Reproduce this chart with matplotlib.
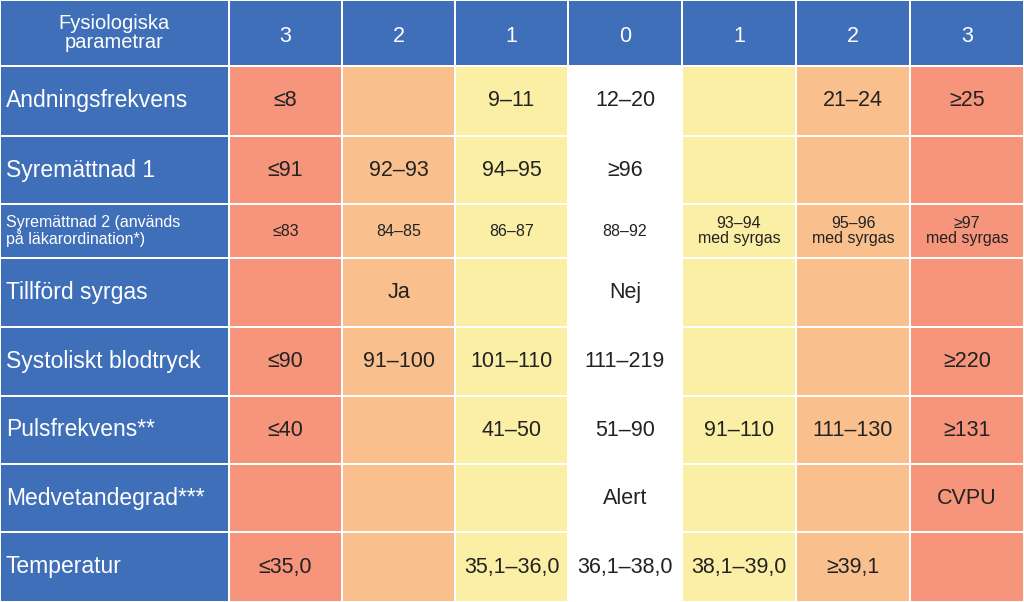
import matplotlib.pyplot as plt
from matplotlib.patches import Rectangle

plt.rcParams["font.family"] = "Liberation Sans"

scores = ["3", "2", "1", "0", "1", "2", "3"]
params = ["Andningsfrekvens", "Syremättnad 1",
          "Syremättnad 2 (används\npå läkarordination*)", "Tillförd syrgas",
          "Systoliskt blodtryck", "Pulsfrekvens**", "Medvetandegrad***", "Temperatur"]
values = [
    ["≤8", "", "9–11", "12–20", "", "21–24", "≥25"],
    ["≤91", "92–93", "94–95", "≥96", "", "", ""],
    ["≤83", "84–85", "86–87", "88–92", "93–94\nmed syrgas", "95–96\nmed syrgas", "≥97\nmed syrgas"],
    ["", "Ja", "", "Nej", "", "", ""],
    ["≤90", "91–100", "101–110", "111–219", "", "", "≥220"],
    ["≤40", "", "41–50", "51–90", "91–110", "111–130", "≥131"],
    ["", "", "", "Alert", "", "", "CVPU"],
    ["≤35,0", "", "35,1–36,0", "36,1–38,0", "38,1–39,0", "≥39,1", ""],
]

W, H = 1024, 602
blue = "#3F6FB8"
score_col = {"3": "#F6957B", "2": "#F9C08E", "1": "#FBEFA6", "0": "#FFFFFF"}

col_x = [0, 229, 342, 455, 568, 682, 796, 910, 1024]
row_y = [0, 66, 136, 204, 258, 327, 396, 464, 532, 602]

fig = plt.figure(figsize=(W / 100, H / 100), dpi=100)
ax = fig.add_axes([0, 0, 1, 1])
ax.set_xlim(0, W)
ax.set_ylim(H, 0)
ax.axis("off")
gap = 2.5

def cell(x0, x1, y0, y1, color):
    ax.add_patch(Rectangle((x0 + gap / 2, y0 + gap / 2), x1 - x0 - gap, y1 - y0 - gap,
                           facecolor=color, edgecolor="none"))

# header
cell(col_x[0], col_x[1], row_y[0], row_y[1], blue)
ax.text(114, 33, "Fysiologiska\nparametrar", color="white", fontsize=14.5,
        ha="center", va="center", linespacing=1.0)
for j, s in enumerate(scores):
    cell(col_x[j + 1], col_x[j + 2], row_y[0], row_y[1], blue)
    ax.text((col_x[j + 1] + col_x[j + 2]) / 2, 36, s, color="white", fontsize=15.5,
            ha="center", va="center")

for i, p in enumerate(params):
    y0, y1 = row_y[i + 1], row_y[i + 2]
    yc = (y0 + y1) / 2
    cell(col_x[0], col_x[1], y0, y1, blue)
    small = i == 2
    ax.text(6, yc, p, color="white", fontsize=11.5 if small else 16.5,
            ha="left", va="center", linespacing=1.0)
    for j, s in enumerate(scores):
        cell(col_x[j + 1], col_x[j + 2], y0, y1, score_col[s])
        v = values[i][j]
        if v:
            ax.text((col_x[j + 1] + col_x[j + 2]) / 2, yc, v, color="#222222",
                    fontsize=11.5 if small else 15.5, ha="center", va="center",
                    linespacing=1.0)

fig.savefig("out.png", dpi=100, facecolor="white")
